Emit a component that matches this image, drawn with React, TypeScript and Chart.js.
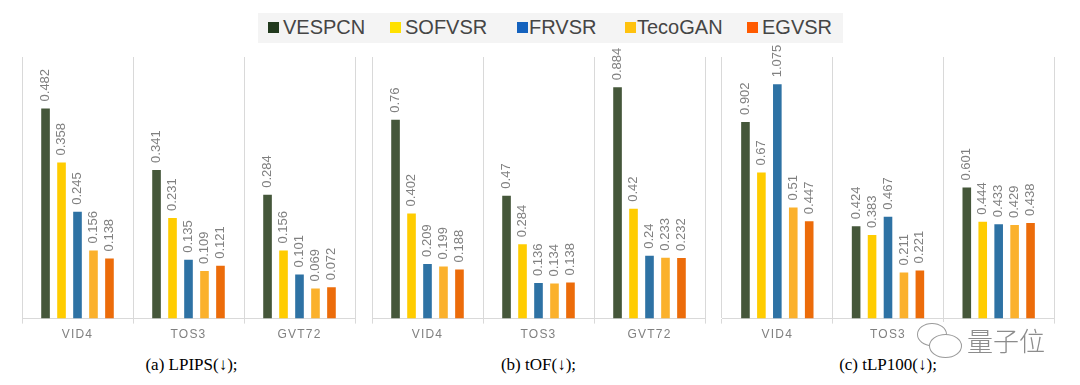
import React, { useEffect, useRef } from "react";
import { Chart, registerables } from "chart.js";

Chart.register(...registerables);

const CATEGORIES = ["VID4", "TOS3", "GVT72"];
const SERIES = ["VESPCN", "SOFVSR", "FRVSR", "TecoGAN", "EGVSR"];
const BAR_COLORS = ["#45573A", "#FFCC00", "#2E72A4", "#FBB12C", "#EC6C0A"];
const LEGEND_COLORS = ["#223A1E", "#FFE100", "#1462BE", "#FFC20E", "#FF5A00"];

const LPIPS_VESPCN = [0.482, 0.341, 0.284];
const LPIPS_SOFVSR = [0.358, 0.231, 0.156];
const LPIPS_FRVSR = [0.245, 0.135, 0.101];
const LPIPS_TECOGAN = [0.156, 0.109, 0.069];
const LPIPS_EGVSR = [0.138, 0.121, 0.072];

const TOF_VESPCN = [0.76, 0.47, 0.884];
const TOF_SOFVSR = [0.402, 0.284, 0.42];
const TOF_FRVSR = [0.209, 0.136, 0.24];
const TOF_TECOGAN = [0.199, 0.134, 0.233];
const TOF_EGVSR = [0.188, 0.138, 0.232];

const TLP_VESPCN = [0.902, 0.424, 0.601];
const TLP_SOFVSR = [0.67, 0.383, 0.444];
const TLP_FRVSR = [1.075, 0.467, 0.433];
const TLP_TECOGAN = [0.51, 0.211, 0.429];
const TLP_EGVSR = [0.447, 0.221, 0.438];

const CAPTIONS = ["(a) LPIPS(↓);", "(b) tOF(↓);", "(c) tLP100(↓);"];
const Y_MAX = [0.6, 1.0, 1.2];

const PANELS = [
  { series: [LPIPS_VESPCN, LPIPS_SOFVSR, LPIPS_FRVSR, LPIPS_TECOGAN, LPIPS_EGVSR], left: 22, right: 355 },
  { series: [TOF_VESPCN, TOF_SOFVSR, TOF_FRVSR, TOF_TECOGAN, TOF_EGVSR], left: 372, right: 705 },
  { series: [TLP_VESPCN, TLP_SOFVSR, TLP_FRVSR, TLP_TECOGAN, TLP_EGVSR], left: 722, right: 1054 },
];

const FONT = "'Liberation Sans', Arial, sans-serif";

const labelPlugin = {
  id: "valueLabels",
  beforeDraw(chart: any) {
    (chart.ctx as any).letterSpacing = "1.2px";
  },
  beforeDatasetsDraw(chart: any) {
    (chart.ctx as any).letterSpacing = "0px";
  },
  afterDatasetsDraw(chart: any) {
    const ctx = chart.ctx;
    chart.data.datasets.forEach((ds: any, di: number) => {
      const meta = chart.getDatasetMeta(di);
      meta.data.forEach((el: any, i: number) => {
        const v = ds.data[i];
        ctx.save();
        ctx.translate(el.x, el.y - 7);
        ctx.rotate(-Math.PI / 2);
        ctx.font = `13px ${FONT}`;
        ctx.fillStyle = "#808080";
        ctx.textAlign = "left";
        ctx.textBaseline = "middle";
        ctx.fillText(String(v), 0, 0);
        ctx.restore();
      });
    });
  },
};

function Panel({ idx }: { idx: number }) {
  const ref = useRef<HTMLCanvasElement>(null);
  const p = PANELS[idx];
  const width = p.right - p.left + 20;
  const height = 301;
  useEffect(() => {
    if (!ref.current) return;
    const chart = new Chart(ref.current, {
      type: "bar",
      data: {
        labels: CATEGORIES,
        datasets: SERIES.map((name, si) => ({
          label: name,
          data: p.series[si],
          backgroundColor: BAR_COLORS[si],
          borderWidth: 0,
          categoryPercentage: 0.72,
          barPercentage: 0.54,
        })),
      },
      options: {
        responsive: false,
        animation: false,
        devicePixelRatio: 1,
        layout: { padding: { left: 10, right: 10, top: 12, bottom: 0 } },
        plugins: { legend: { display: false }, tooltip: { enabled: false } },
        scales: {
          x: {
            grid: { color: "#d9d9d9", lineWidth: 1, tickLength: 5, offset: true, tickColor: "#d9d9d9" },
            border: { color: "#d9d9d9", width: 1 },
            ticks: { color: "#808080", font: { size: 12, family: FONT }, padding: 4 },
          },
          y: { display: false, min: 0, max: Y_MAX[idx] },
        },
      },
      plugins: [labelPlugin],
    });
    return () => chart.destroy();
  }, []);
  return (
    <canvas
      ref={ref}
      width={width}
      height={height}
      style={{ position: "absolute", left: p.left - 10, top: 45, width, height }}
    />
  );
}

export default function App() {
  const legendPos = [
    { m: 268, t: 283 },
    { m: 390, t: 405 },
    { m: 517, t: 529 },
    { m: 625, t: 637 },
    { m: 747, t: 762 },
  ];
  return (
    <div style={{ position: "fixed", left: 0, top: 0, width: 1080, height: 385, background: "#fff", overflow: "hidden" }}>
      <div style={{ position: "absolute", left: 258, top: 13, width: 585, height: 30, background: "#f4f4f4" }} />
      {SERIES.map((s, i) => (
        <React.Fragment key={s}>
          <div style={{ position: "absolute", left: legendPos[i].m, top: 22, width: 11, height: 11, background: LEGEND_COLORS[i] }} />
          <div style={{ position: "absolute", left: legendPos[i].t, top: 15, fontFamily: FONT, fontSize: 20, lineHeight: "24px", color: "#454545", whiteSpace: "nowrap" }}>{s}</div>
        </React.Fragment>
      ))}
      {PANELS.map((_, i) => <Panel key={i} idx={i} />)}
      {PANELS.map((p, i) => (
        <div key={"c" + i} style={{ position: "absolute", left: (p.left + p.right) / 2 - 100 + (i === 0 ? 3 : 0), width: 200, top: 354, textAlign: "center", fontFamily: "'Liberation Serif', 'Times New Roman', serif", fontSize: 17, lineHeight: "22px", color: "#000" }}>{CAPTIONS[i]}</div>
      ))}
      <div style={{ position: "absolute", left: 915, top: 322, width: 135, height: 36, background: "#fff" }} />
      <div style={{ position: "absolute", left: 917, top: 323, width: 28, height: 21, borderRadius: "50%", border: "1.5px solid #9a9a9a", background: "#fff" }} />
      <div style={{ position: "absolute", left: 929, top: 334, width: 31, height: 22, borderRadius: "50%", border: "1.5px solid #9a9a9a", background: "#fff" }} />
      <div style={{ position: "absolute", left: 967, top: 323, fontFamily: "'Noto Sans CJK SC', sans-serif", fontSize: 26, fontWeight: 300, lineHeight: "34px", color: "#8c8c8c", letterSpacing: 0 }}>量子位</div>
    </div>
  );
}
